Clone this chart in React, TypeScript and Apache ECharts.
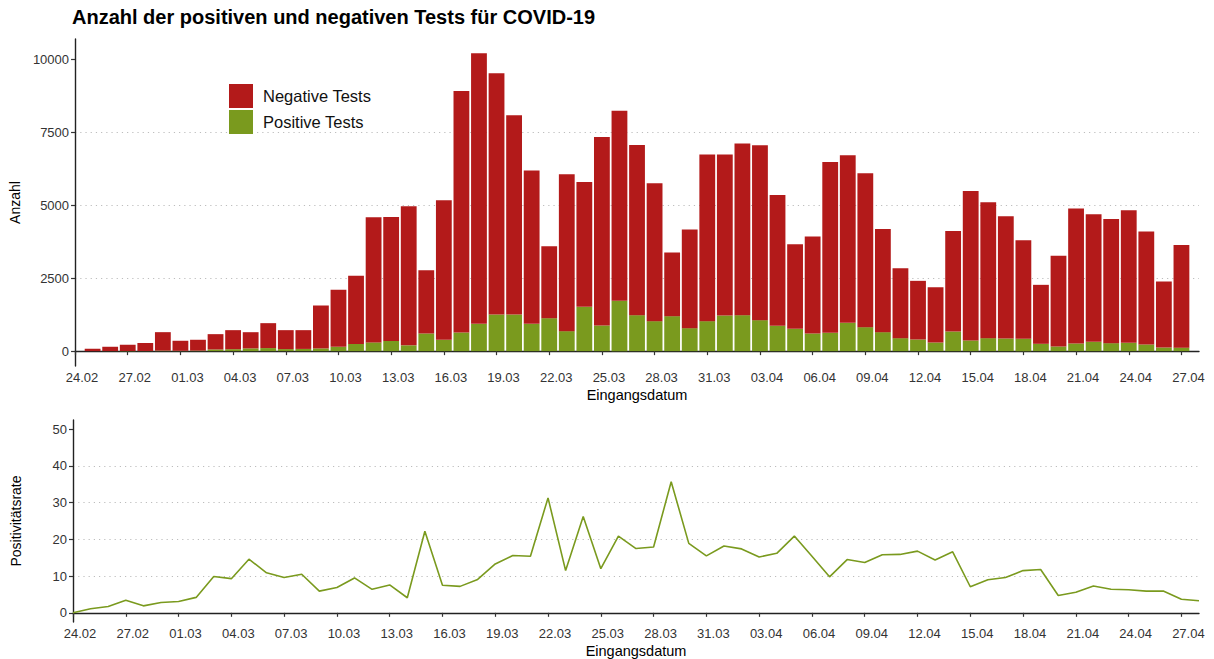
import React, { useEffect, useRef } from 'react';
import * as echarts from 'echarts';

const dates = [
  '24.02', '25.02', '26.02', '27.02', '28.02', '29.02',
  '01.03', '02.03', '03.03', '04.03', '05.03', '06.03', '07.03', '08.03', '09.03', '10.03',
  '11.03', '12.03', '13.03', '14.03', '15.03', '16.03', '17.03', '18.03', '19.03', '20.03',
  '21.03', '22.03', '23.03', '24.03', '25.03', '26.03', '27.03', '28.03', '29.03', '30.03', '31.03',
  '01.04', '02.04', '03.04', '04.04', '05.04', '06.04', '07.04', '08.04', '09.04', '10.04',
  '11.04', '12.04', '13.04', '14.04', '15.04', '16.04', '17.04', '18.04', '19.04', '20.04',
  '21.04', '22.04', '23.04', '24.04', '25.04', '26.04', '27.04', '28.04',
];

const positiveTests = [
  null, 1, 3, 7, 6, 18,
  11, 17, 58, 67, 95, 105, 70, 76, 94, 148,
  245, 300, 350, 200, 606, 390, 640, 937, 1257, 1257,
  937, 1131, 686, 1520, 880, 1726, 1234, 1029, 1200, 789, 1029,
  1223, 1234, 1063, 869, 766, 606, 629, 972, 823, 652,
  446, 400, 297, 674, 366, 446, 434, 423, 251, 160,
  263, 320, 274, 286, 229, 125, 120, null,
];

const negativeTests = [
  null, 81, 147, 211, 274, 633,
  345, 373, 525, 653, 555, 855, 650, 644, 1472, 1955,
  2338, 4295, 4256, 4772, 2171, 4788, 8287, 9281, 8276, 6835,
  5258, 2469, 5383, 4286, 6469, 6526, 5841, 4731, 2183, 3383, 5715,
  5521, 5887, 6001, 4492, 2903, 3326, 5863, 5748, 5281, 3543,
  2400, 2012, 1898, 3452, 5132, 4663, 4195, 3383, 2024, 3109,
  4629, 4378, 4264, 4549, 3874, 2264, 3526, null,
];

const positivityRate = [
  0, 1.1, 1.7, 3.4, 1.9, 2.8,
  3.1, 4.2, 9.9, 9.3, 14.6, 10.9, 9.6, 10.5, 5.9, 6.9,
  9.5, 6.4, 7.6, 4.1, 22.2, 7.5, 7.2, 9.1, 13.3, 15.6,
  15.4, 31.3, 11.5, 26.2, 12.0, 20.9, 17.5, 17.9, 35.7, 18.9, 15.5,
  18.2, 17.4, 15.2, 16.2, 20.9, 15.4, 9.8, 14.5, 13.7, 15.8,
  15.9, 16.8, 14.4, 16.6, 7.1, 9.0, 9.6, 11.5, 11.8, 4.7,
  5.6, 7.3, 6.4, 6.3, 5.9, 5.9, 3.7, 3.3,
];

const countTicks = [0, 2500, 5000, 7500, 10000];
const rateTicks = [0, 10, 20, 30, 40, 50];

const RED = '#B31A1A';
const GREEN = '#7A9A1E';
const FONT = '"Liberation Sans", Arial, sans-serif';

function xAxisFor(gridIndex: number) {
  return {
    type: 'category',
    gridIndex,
    data: dates,
    boundaryGap: false,
    name: 'Eingangsdatum',
    nameLocation: 'middle',
    nameGap: 21,
    nameTextStyle: { fontSize: 14.5, color: '#000', fontFamily: FONT },
    axisLine: { lineStyle: { color: '#222', width: 1.4 } },
    axisTick: { interval: 2, length: 4, lineStyle: { color: '#333', width: 1.2 } },
    axisLabel: {
      interval: 2,
      margin: 5,
      fontSize: 13,
      color: '#333',
      fontFamily: FONT,
      padding: [0, 0, 0, 14],
    },
    splitLine: { show: false },
  };
}

function yAxisFor(gridIndex: number, name: string, min: number, max: number, ticks: number[]) {
  return {
    type: 'value',
    gridIndex,
    min,
    max,
    name,
    nameLocation: 'middle',
    nameGap: 50,
    nameTextStyle: { fontSize: 14, color: '#000', fontFamily: FONT },
    axisLine: { show: true, lineStyle: { color: '#222', width: 1.4 } },
    axisTick: { show: true, length: 4, customValues: ticks, lineStyle: { color: '#333', width: 1.2 } },
    axisLabel: {
      customValues: ticks,
      margin: 6,
      fontSize: 13,
      color: '#333',
      fontFamily: FONT,
      formatter: (v: number) => String(v),
    },
    splitLine: {
      show: true,
      showMinLine: false,
      showMaxLine: false,
      lineStyle: { color: '#bdbdbd', width: 1.2, type: [1.2, 4] },
    },
  };
}

export default function App() {
  const ref = useRef<HTMLDivElement>(null);

  useEffect(() => {
    if (!ref.current) return;
    const chart = echarts.init(ref.current, null, { renderer: 'svg' });
    chart.setOption({
      animation: false,
      backgroundColor: '#fff',
      textStyle: { fontFamily: FONT },
      title: {
        text: 'Anzahl der positiven und negativen Tests für COVID-19',
        left: 72,
        top: 7,
        padding: 0,
        textStyle: { fontSize: 20, fontWeight: 'bold', color: '#000', fontFamily: FONT },
      },
      legend: {
        data: ['Negative Tests', 'Positive Tests'],
        orient: 'vertical',
        left: 229,
        top: 84,
        padding: 0,
        itemWidth: 24,
        itemHeight: 24,
        itemGap: 2,
        icon: 'rect',
        textStyle: { fontSize: 16.5, color: '#111', fontFamily: FONT, padding: [0, 0, 0, 5] },
      },
      grid: [
        { left: 73, right: 15, top: 39, height: 327 },
        { left: 73, right: 15, top: 420, height: 202 },
      ],
      xAxis: [xAxisFor(0), xAxisFor(1)],
      yAxis: [
        yAxisFor(0, 'Anzahl', -510, 10710, countTicks),
        yAxisFor(1, 'Positivitätsrate', -2.5, 52.5, rateTicks),
      ],
      series: [
        {
          name: 'Positive Tests',
          type: 'bar',
          xAxisIndex: 0,
          yAxisIndex: 0,
          stack: 'total',
          barWidth: '90%',
          data: positiveTests,
          itemStyle: { color: GREEN },
        },
        {
          name: 'Negative Tests',
          type: 'bar',
          xAxisIndex: 0,
          yAxisIndex: 0,
          stack: 'total',
          barWidth: '90%',
          data: negativeTests,
          itemStyle: { color: RED },
        },
        {
          name: 'Positivitätsrate',
          type: 'line',
          xAxisIndex: 1,
          yAxisIndex: 1,
          data: positivityRate,
          showSymbol: false,
          lineStyle: { color: GREEN, width: 1.6 },
          itemStyle: { color: GREEN },
        },
      ],
    });
    return () => chart.dispose();
  }, []);

  return (
    <div
      ref={ref}
      style={{ position: 'absolute', left: 0, top: 0, width: 1214, height: 659, background: '#fff' }}
    />
  );
}
